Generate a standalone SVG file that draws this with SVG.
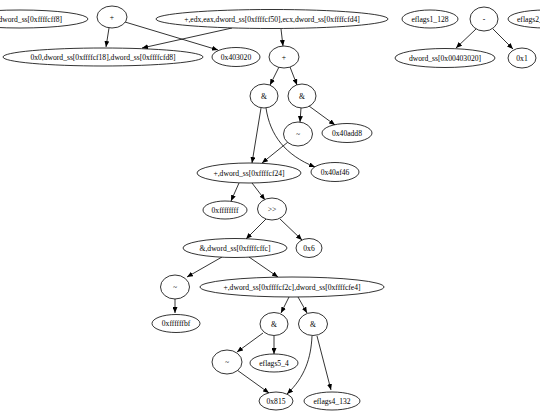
<svg xmlns="http://www.w3.org/2000/svg" width="540" height="413" viewBox="0 0 540 413">
<style>
ellipse{fill:#fff;stroke:#000;stroke-width:0.8}
text{font-family:"Liberation Serif","Times New Roman",serif;font-size:7.6px;fill:#000;text-anchor:middle;dominant-baseline:central}
.e{fill:none;stroke:#000;stroke-width:0.8;marker-end:url(#ah)}
</style>
<defs>
<marker id="ah" markerUnits="userSpaceOnUse" markerWidth="6" markerHeight="5" refX="6" refY="2.5" orient="auto">
<path d="M0,0 L6,2.5 L0,5 z" fill="#000"/>
</marker>
</defs>
<rect width="540" height="413" fill="#fff"/>
<g id="edges">
<path class="e" d="M109,28 L106,47"/>
<path class="e" d="M125,22 L218,50"/>
<path class="e" d="M232,28 L142,48"/>
<path class="e" d="M281,29 L283,46"/>
<path class="e" d="M476,29 L456,48"/>
<path class="e" d="M493,29 L513,49"/>
<path class="e" d="M279,67 L270,85"/>
<path class="e" d="M290,67 L297,85"/>
<path class="e" d="M301,108 L300,122"/>
<path class="e" d="M309,106 L335,125"/>
<path class="e" d="M261,108 L252,163"/>
<path class="e" d="M266,108 C270,135 285,155 315,167"/>
<path class="e" d="M288,142 L262,163"/>
<path class="e" d="M239,183 L231,201"/>
<path class="e" d="M252,183 L265,200"/>
<path class="e" d="M266,219 L246,239"/>
<path class="e" d="M280,219 L302,240"/>
<path class="e" d="M222,257 L187,277"/>
<path class="e" d="M249,257 L278,277"/>
<path class="e" d="M175,299 L175,313"/>
<path class="e" d="M289,297 L281,313"/>
<path class="e" d="M298,297 L307,313"/>
<path class="e" d="M263,333 L237,352"/>
<path class="e" d="M274,336 L274,354"/>
<path class="e" d="M237,370 L269,393"/>
<path class="e" d="M312,336 C311,358 305,377 287,394"/>
<path class="e" d="M317,336 L331,390"/>
</g>
<g id="n1"><ellipse cx="20" cy="19" rx="68" ry="9"/><text x="62" y="19" style="text-anchor:end">dword_ss[0xffffcff8]</text></g>
<g id="n2"><ellipse cx="112" cy="17" rx="15" ry="11"/><text x="112" y="17">+</text></g>
<g id="n3"><ellipse cx="272" cy="19" rx="116" ry="9.5"/><text x="272" y="19">+,edx,eax,dword_ss[0xffffcf50],ecx,dword_ss[0xffffcfd4]</text></g>
<g id="n4"><ellipse cx="430" cy="19" rx="28" ry="9"/><text x="430" y="19">eflags1_128</text></g>
<g id="n5"><ellipse cx="484" cy="19" rx="14" ry="12"/><text x="484" y="19">-</text></g>
<g id="n6"><ellipse cx="545" cy="19" rx="37" ry="9"/><text x="517" y="19" style="text-anchor:start">eflags2_</text></g>
<g id="n7"><ellipse cx="103" cy="57" rx="100" ry="9"/><text x="103" y="57">0x0,dword_ss[0xffffcf18],dword_ss[0xffffcfd8]</text></g>
<g id="n8"><ellipse cx="236" cy="57" rx="24" ry="9.5"/><text x="236" y="57">0x403020</text></g>
<g id="n9"><ellipse cx="284" cy="57" rx="15" ry="11"/><text x="284" y="57">+</text></g>
<g id="n10"><ellipse cx="445" cy="58" rx="50" ry="9.5"/><text x="445" y="58">dword_ss[0x00403020]</text></g>
<g id="n11"><ellipse cx="522" cy="58" rx="14" ry="10"/><text x="522" y="58">0x1</text></g>
<g id="n12"><ellipse cx="264" cy="96" rx="14" ry="12"/><text x="264" y="96">&amp;</text></g>
<g id="n13"><ellipse cx="302" cy="96" rx="14" ry="12"/><text x="302" y="96">&amp;</text></g>
<g id="n14"><ellipse cx="298" cy="134" rx="14.5" ry="12"/><text x="298" y="134">~</text></g>
<g id="n15"><ellipse cx="347" cy="133" rx="25" ry="9.5"/><text x="347" y="133">0x40add8</text></g>
<g id="n16"><ellipse cx="249" cy="173" rx="52" ry="10"/><text x="249" y="173">+,dword_ss[0xffffcf24]</text></g>
<g id="n17"><ellipse cx="335" cy="172" rx="24" ry="9.5"/><text x="335" y="172">0x40af46</text></g>
<g id="n18"><ellipse cx="225" cy="210" rx="22" ry="9"/><text x="225" y="210">0xffffffff</text></g>
<g id="n19"><ellipse cx="272" cy="209" rx="14.5" ry="11"/><text x="272" y="209">&gt;&gt;</text></g>
<g id="n20"><ellipse cx="235" cy="248" rx="52" ry="9.5"/><text x="235" y="248">&amp;,dword_ss[0xffffcffc]</text></g>
<g id="n21"><ellipse cx="309" cy="248" rx="13" ry="9.5"/><text x="309" y="248">0x6</text></g>
<g id="n22"><ellipse cx="175" cy="287" rx="14.5" ry="12"/><text x="175" y="287">~</text></g>
<g id="n23"><ellipse cx="292" cy="287" rx="92" ry="10"/><text x="292" y="287">+,dword_ss[0xffffcf2c],dword_ss[0xffffcfe4]</text></g>
<g id="n24"><ellipse cx="176" cy="323.5" rx="24" ry="9"/><text x="176" y="323.5">0xffffffbf</text></g>
<g id="n25"><ellipse cx="274" cy="324" rx="14" ry="11.5"/><text x="274" y="324">&amp;</text></g>
<g id="n26"><ellipse cx="313" cy="324" rx="14.5" ry="11.5"/><text x="313" y="324">&amp;</text></g>
<g id="n27"><ellipse cx="227" cy="362" rx="15" ry="12"/><text x="227" y="362">~</text></g>
<g id="n28"><ellipse cx="274" cy="363" rx="24" ry="9"/><text x="274" y="363">eflags5_4</text></g>
<g id="n29"><ellipse cx="276" cy="401" rx="17" ry="9"/><text x="276" y="401">0x815</text></g>
<g id="n30"><ellipse cx="332" cy="401" rx="28" ry="9"/><text x="332" y="401">eflags4_132</text></g>
</svg>
